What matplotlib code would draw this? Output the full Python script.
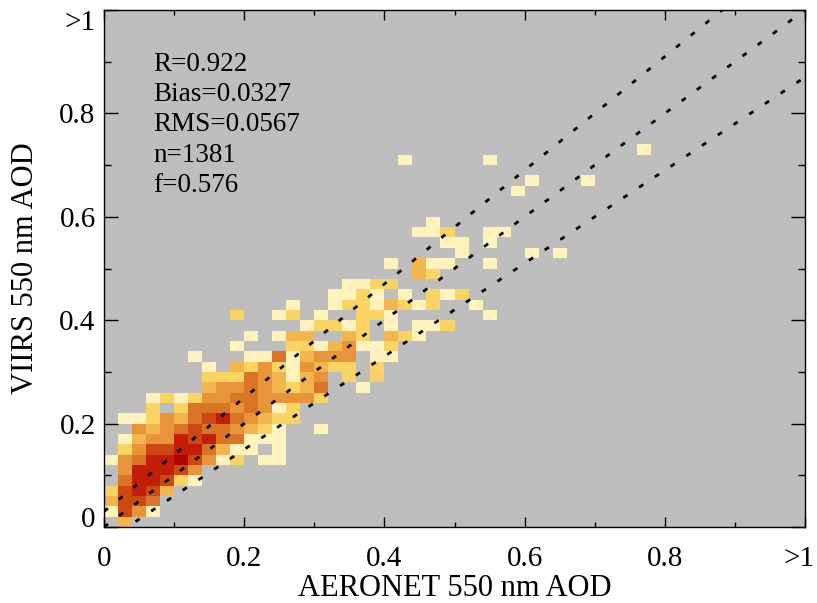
import numpy as np
import matplotlib
matplotlib.use("Agg")
import matplotlib.pyplot as plt
from matplotlib.colors import ListedColormap, BoundaryNorm
from matplotlib.transforms import ScaledTranslation

# ---- data: 2-D histogram of AERONET (x) vs VIIRS (y) AOD, bin = 0.02 ----
n_bins = 50
# for each y-bin row (from bottom): first x-bin index, then density level per bin ('.' = empty)
row_start = [1, 0, 0, 0, 1, 1, 0, 1, 1, 2,
             1, 3, 3, 7, 7, 7, 6, 9, 10, 14,
             9, 13, 16, 17, 22, 20, 25, 24, 22, 23,
             0, 0, 29, 30, 0, 21, 38]
row_levels = ["3", "1641", "3665", "26763", "577621", "477764",
              "1457786412.11", "2466775311.1", "134476755111", "43456554321..1",
              "1124356754322", "2.255545412", "1212445544442", "344543235..1",
              "222543134.2.2", "1.324214322.2", "1...11513444.11", "1...22134112",
              "1.133..32.321", "12212.1.112", "2..12.1..221......1", "1..12213212..1",
              "1121.1.212", "1122", "32", "1.311..1", "1....1.1", "11.1", "112..11",
              "1", "", "", "1", "1...1", "", "1.....1", "1"]
level_colors = ["#FFF2BD", "#FAD462", "#F2B64C", "#E8953A",
                "#DA7426", "#CC4914", "#C21D06", "#AE0600"]

x_tick_values = [0, 0.2, 0.4, 0.6, 0.8, 1.0]
x_tick_labels = ["0", "0.2", "0.4", "0.6", "0.8", ">1"]
y_tick_values = [0, 0.2, 0.4, 0.6, 0.8, 1.0]
y_tick_labels = ["0", "0.2", "0.4", "0.6", "0.8", ">1"]
minor_ticks = [0.1, 0.3, 0.5, 0.7, 0.9]

stats_lines = ["R=0.922", "Bias=0.0327", "RMS=0.0567", "n=1381", "f=0.576"]
ee_lines = [(1.0, 0.0), (1.1, 0.03), (0.9, -0.03)]   # slope, offset

x_label = "AERONET 550 nm AOD"
y_label = "VIIRS 550 nm AOD"

# ---- build grid ----
grid = np.full((n_bins, n_bins), np.nan)
for j, (s, lv) in enumerate(zip(row_start, row_levels)):
    for k, ch in enumerate(lv):
        if ch != ".":
            grid[j, s + k] = int(ch)
edges = np.linspace(0, 1, n_bins + 1)

plt.rcParams["font.family"] = ["Liberation Serif", "DejaVu Serif"]

W, H = 817, 603
fig = plt.figure(figsize=(W / 100, H / 100), dpi=100)
ax = fig.add_axes([104 / W, 1 - 527 / H, 701 / W, 517 / H])
ax.set_facecolor("#bebebe")

cmap = ListedColormap(level_colors)
norm = BoundaryNorm(np.arange(0.5, len(level_colors) + 1.5, 1), cmap.N)
ax.pcolormesh(edges, edges, np.ma.masked_invalid(grid), cmap=cmap, norm=norm)

xs = np.array([0.0, 1.0])
for slope, off in ee_lines:
    ax.plot(xs, slope * xs + off, color="black", lw=2.0,
            linestyle=(0, (1.8, 5.0)), dash_capstyle="butt")

ax.set_xlim(0, 1)
ax.set_ylim(0, 1)

ax.set_xticks(x_tick_values)
ax.set_xticklabels(x_tick_labels)
ax.set_yticks(y_tick_values)
ax.set_yticklabels(y_tick_labels)
ax.set_xticks(minor_ticks, minor=True)
ax.set_yticks(minor_ticks, minor=True)
ax.tick_params(which="both", direction="in", top=True, right=True, width=1.0,
               colors="black")
ax.tick_params(axis="x", which="major", length=7.4, pad=14, labelsize=21)
ax.tick_params(axis="x", which="minor", length=3.7)
ax.tick_params(axis="y", which="major", length=10, pad=6, labelsize=21)
ax.tick_params(axis="y", which="minor", length=5)
for sp in ax.spines.values():
    sp.set_linewidth(1.0)

ylabs = ax.get_yticklabels()
ylabs[0].set_verticalalignment("baseline")
ylabs[-1].set_verticalalignment("top")
xlabs = ax.get_xticklabels()
xlabs[-1].set_transform(xlabs[-1].get_transform() +
                        ScaledTranslation(-6 / 100, 0, fig.dpi_scale_trans))

ax.set_xlabel(x_label, fontsize=22)
ax.xaxis.set_label_coords(0.5, -0.09)
ax.set_ylabel(y_label, fontsize=22)
ax.yaxis.set_label_coords(-0.092, 0.5)

baselines = [71, 101, 131, 162, 192]
for txt, b in zip(stats_lines, baselines):
    ax.text((153 - 104) / 701, (527 - b) / 517, txt, transform=ax.transAxes,
            fontsize=19.5, ha="left", va="baseline")

fig.savefig("out.png", dpi=100)
